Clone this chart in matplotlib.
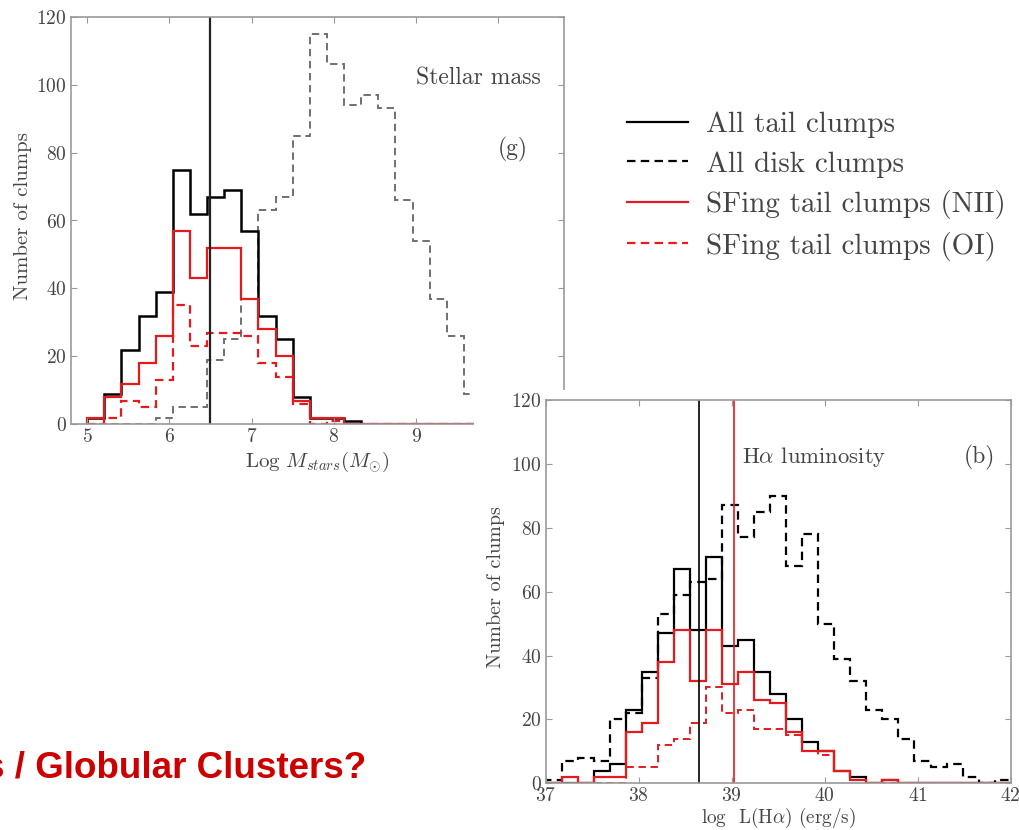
import numpy as np
import matplotlib.pyplot as plt
from matplotlib.lines import Line2D
from matplotlib.patches import Rectangle

plt.rcParams['font.family'] = 'cmr10'
plt.rcParams['mathtext.fontset'] = 'cm'
plt.rcParams['axes.formatter.use_mathtext'] = True

# Stellar mass histograms, log M from 5 in bins of 5/24 dex
mass_edges = 5 + np.arange(24) * 5 / 24
mass_tail = [2, 9, 22, 32, 39, 75, 62, 67, 69, 57, 32, 25, 8, 2, 2, 1, 0, 0, 0, 0, 0, 0, 0]
mass_disk = [0, 0, 0, 0, 2, 5, 5, 19, 25, 37, 63, 67, 85, 115, 106, 94, 97, 93, 66, 54, 37, 26, 9]
mass_nii = [2, 8, 12, 18, 26, 57, 43, 52, 52, 37, 28, 20, 7, 2, 2, 0, 0, 0, 0, 0, 0, 0, 0]
mass_oi = [0, 2, 7, 5, 13, 35, 23, 27, 27, 26, 18, 14, 6, 0, 1, 0, 0, 0, 0, 0, 0, 0, 0]
mass_median_tail = 6.49

# H-alpha luminosity histograms, log L from 37 to 42 in 29 bins
lum_edges = np.linspace(37, 42, 30)
lum_disk = [1, 7, 8, 7, 20, 22, 33, 53, 59, 63, 64, 87, 77, 85, 90, 68, 78, 50, 39, 32,
            23, 20, 14, 7, 5, 6, 2, 0, 1]
lum_tail = [0, 0, 0, 4, 6, 23, 35, 47, 67, 48, 71, 43, 45, 35, 28, 20, 13, 10, 4, 2,
            0, 1, 0, 0, 0, 0, 0, 0, 0]
lum_nii = [0, 2, 0, 2, 2, 16, 19, 38, 48, 32, 48, 31, 35, 26, 25, 16, 10, 10, 4, 1,
           0, 1, 0, 0, 0, 0, 0, 0, 0]
lum_oi = [0, 0, 0, 0, 0, 5, 5, 12, 14, 19, 30, 22, 23, 17, 17, 15, 10, 9, 4, 1,
          0, 0, 0, 0, 0, 0, 0, 0, 0]
lum_median_tail = 38.65
lum_median_nii = 39.02

legend_labels = ['All tail clumps', 'All disk clumps',
                 'SFing tail clumps (NII)', 'SFing tail clumps (OI)']

RED = '#e41a1c'
TXT = '#444444'
DASH = (0, (3.8, 2.4))
W, H = 1019, 830


def px_box(x0, y0, x1, y1):
    # pixel box (top-left origin) -> figure fraction rect
    return [x0 / W, 1 - y1 / H, (x1 - x0) / W, (y1 - y0) / H]


def style_axes(ax):
    for s in ax.spines.values():
        s.set_color('#999999')
        s.set_linewidth(1.2)
    ax.tick_params(direction='in', length=4, width=0.8, color='#999999',
                   labelcolor=TXT, labelsize=14, pad=3,
                   top=True, right=True)


fig = plt.figure(figsize=(W / 100, H / 100), dpi=100)

# stellar mass panel
ax1 = fig.add_axes(px_box(70.7, 16.7, 564, 424.3))
ax1.stairs(mass_disk, mass_edges, color='#707070', lw=1.4, linestyle=DASH)
ax1.stairs(mass_tail, mass_edges, color='black', lw=1.8)
ax1.stairs(mass_oi, mass_edges, color=RED, lw=1.6, linestyle=DASH)
ax1.stairs(mass_nii, mass_edges, color=RED, lw=1.6)
ax1.axvline(mass_median_tail, color='#222222', lw=1.6)
ax1.set_xlim(4.8, 10.8)
ax1.set_ylim(0, 120)
ax1.set_xticks(range(5, 11))
ax1.set_yticks(range(0, 121, 20))
style_axes(ax1)
ax1.set_xlabel(r'Log $M_{stars}(M_{\odot})$', fontsize=15, color=TXT)
ax1.set_ylabel('Number of clumps', fontsize=15, color=TXT)
ax1.xaxis.set_label_coords(0.5, -0.062)
ax1.yaxis.set_label_coords(-0.078, 0.51)
ax1.text(9.0, 100, 'Stellar mass', fontsize=17, color=TXT, va='baseline')
ax1.text(10.0, 81, '(g)', fontsize=17, color=TXT, va='center')

# white backing of the luminosity panel
fig.add_artist(Rectangle((474 / W, 0), 1 - 474 / W, 1 - 390 / H,
                         transform=fig.transFigure, facecolor='white',
                         edgecolor='none', zorder=1))

# H-alpha luminosity panel
ax2 = fig.add_axes(px_box(545.7, 400, 1010.7, 783.3))
ax2.set_zorder(2)
ax2.stairs(lum_disk, lum_edges, color='black', lw=1.6, linestyle=DASH)
ax2.stairs(lum_tail, lum_edges, color='black', lw=1.6)
ax2.stairs(lum_oi, lum_edges, color=RED, lw=1.4, linestyle=DASH)
ax2.stairs(lum_nii, lum_edges, color=RED, lw=1.6)
ax2.axvline(lum_median_tail, color='black', lw=1.2)
ax2.axvline(lum_median_nii, color=RED, lw=1.2)
ax2.set_xlim(37, 42)
ax2.set_ylim(0, 120)
ax2.set_xticks(range(37, 43))
ax2.set_yticks(range(0, 121, 20))
style_axes(ax2)
ax2.set_xlabel(r'log  L(H$\alpha$) (erg/s)', fontsize=13.8, color=TXT)
ax2.set_ylabel('Number of clumps', fontsize=14.5, color=TXT)
ax2.xaxis.set_label_coords(0.5, -0.059)
ax2.yaxis.set_label_coords(-0.0875, 0.513)
ax2.text(39.11, 102, r'H$\alpha$ luminosity', fontsize=16.3, color=TXT, va='center')
ax2.text(41.5, 102, '(b)', fontsize=17, color=TXT, va='center')

# shared legend
handles = [Line2D([], [], color='black', lw=1.6),
           Line2D([], [], color='black', lw=1.6, linestyle=DASH),
           Line2D([], [], color=RED, lw=1.6),
           Line2D([], [], color=RED, lw=1.6, linestyle=DASH)]
leg = fig.legend(handles, legend_labels, loc='upper left',
                 bbox_to_anchor=(627 / W, 1 - 112 / H), frameon=False,
                 fontsize=21, handlelength=2.09, handletextpad=0.62,
                 labelspacing=0.43, borderpad=0, borderaxespad=0)
for t in leg.get_texts():
    t.set_color(TXT)

# slide heading, running off the left edge
fig.text(366 / W, 1 - 777 / H, 's / Globular Clusters?', ha='right', va='baseline',
         fontsize=26.5, fontweight='bold', color='#cc0000', family='Liberation Sans')

fig.savefig('out.png', dpi=100)
